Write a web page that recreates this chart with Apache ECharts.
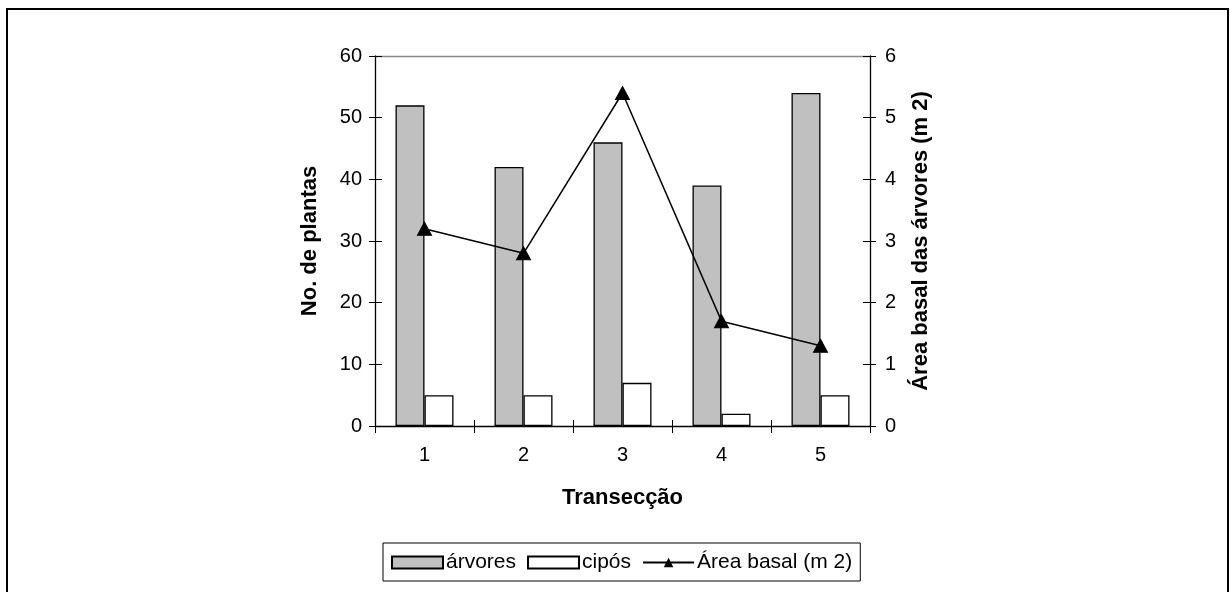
<!DOCTYPE html>
<html>
<head>
<meta charset="utf-8">
<script src="https://cdn.jsdelivr.net/npm/echarts@6/dist/echarts.min.js"></script>
<style>
  html, body { margin: 0; padding: 0; background: #fff; }
  #chart { width: 1230px; height: 592px; }
  #frame { position: absolute; left: 6px; top: 8px; width: 1219px; height: 600px; border: 2px solid #000; pointer-events: none; }
</style>
</head>
<body>
<div id="chart"></div>
<div id="frame"></div>
<script>
// Transect categories and per-transect counts
const categories = ['1', '2', '3', '4', '5'];
const arvores = [52, 42, 46, 39, 54];
const cipos = [5, 5, 7, 2, 5];
// Basal area of trees per transect (m 2)
const areaBasal = [3.2, 2.8, 5.4, 1.7, 1.3];

const FONT = 'Liberation Sans, Arial, sans-serif';
const TICK_FONT = 20;
const TITLE_FONT = 22;
const chart = echarts.init(document.getElementById('chart'));

const gridBox = { left: 375, right: 360, top: 56, bottom: 166 };
const hiddenParts = {
  axisLine: { show: false }, axisLabel: { show: false }, splitLine: { show: false }
};
const innerTick = (len) => ({ show: true, inside: true, length: len, lineStyle: { color: '#000' } });

chart.setOption({
  animation: false,
  backgroundColor: '#fff',
  textStyle: { fontFamily: FONT, color: '#000' },
  // grid 0 carries the data; grid 1 overlays it to draw the inner half of the crossing ticks
  grid: [gridBox, gridBox],
  legend: {
    left: 383, top: 543,
    padding: [9, 8, 8, 8],
    borderColor: '#000', borderWidth: 1,
    itemWidth: 51, itemHeight: 12, itemGap: 11,
    textStyle: { fontFamily: FONT, fontSize: 21, color: '#000', padding: [0, 0, 0, -2] },
    data: [
      { name: 'árvores', icon: 'rect' },
      { name: 'cipós', icon: 'rect' },
      { name: 'Área basal (m 2)' }
    ]
  },
  xAxis: [
    {
      type: 'category', data: categories, gridIndex: 0, position: 'bottom',
      name: 'Transecção', nameLocation: 'middle', nameGap: 61,
      nameTextStyle: { fontFamily: FONT, fontSize: TITLE_FONT, fontWeight: 'bold', color: '#000' },
      axisLine: { onZero: false, lineStyle: { color: '#000', width: 1.3 } },
      axisTick: { show: true, length: 7, lineStyle: { color: '#000' } },
      axisLabel: { fontFamily: FONT, fontSize: TICK_FONT, color: '#000', margin: 19 },
      splitLine: { show: false }
    },
    {
      // upper edge of the plot area
      type: 'category', data: categories, gridIndex: 0, position: 'top',
      axisLine: { show: true, onZero: false, lineStyle: { color: '#888', width: 1.3 } },
      axisTick: { show: false }, axisLabel: { show: false }, splitLine: { show: false }
    },
    {
      type: 'category', data: categories, gridIndex: 1, position: 'bottom',
      axisTick: innerTick(6), ...hiddenParts
    }
  ],
  yAxis: [
    {
      type: 'value', min: 0, max: 60, interval: 10, gridIndex: 0, position: 'left',
      name: 'No. de plantas', nameLocation: 'middle', nameGap: 54,
      nameTextStyle: { fontFamily: FONT, fontSize: TITLE_FONT, fontWeight: 'bold', color: '#000' },
      axisLine: { show: true, onZero: false, lineStyle: { color: '#000', width: 1.3 } },
      axisTick: { show: true, length: 6, lineStyle: { color: '#000' } },
      axisLabel: { fontFamily: FONT, fontSize: TICK_FONT, color: '#000', margin: 13 },
      splitLine: { show: false }
    },
    {
      type: 'value', min: 0, max: 6, interval: 1, gridIndex: 0, position: 'right',
      name: 'Área basal das árvores (m 2)', nameLocation: 'middle', nameGap: 40,
      nameRotate: 90,
      nameTextStyle: { fontFamily: FONT, fontSize: TITLE_FONT, fontWeight: 'bold', color: '#000' },
      axisLine: { show: true, onZero: false, lineStyle: { color: '#000', width: 1.3 } },
      axisTick: { show: true, length: 6, lineStyle: { color: '#000' } },
      axisLabel: { fontFamily: FONT, fontSize: TICK_FONT, color: '#000', margin: 15 },
      splitLine: { show: false }
    },
    {
      type: 'value', min: 0, max: 60, interval: 10, gridIndex: 1, position: 'left',
      axisTick: innerTick(7), ...hiddenParts
    },
    {
      type: 'value', min: 0, max: 6, interval: 1, gridIndex: 1, position: 'right',
      axisTick: innerTick(7), ...hiddenParts
    }
  ],
  series: [
    {
      name: 'árvores', type: 'bar', data: arvores, xAxisIndex: 0, yAxisIndex: 0,
      barWidth: 29, barGap: '0%',
      itemStyle: { color: '#c0c0c0', borderColor: '#000', borderWidth: 1.3 }
    },
    {
      name: 'cipós', type: 'bar', data: cipos, xAxisIndex: 0, yAxisIndex: 0,
      barWidth: 29, barGap: '0%',
      itemStyle: { color: '#fff', borderColor: '#000', borderWidth: 1.3 }
    },
    {
      name: 'Área basal (m 2)', type: 'line', data: areaBasal, xAxisIndex: 0, yAxisIndex: 1,
      symbol: 'triangle', symbolSize: [14, 13], z: 5,
      lineStyle: { color: '#000', width: 1.5 },
      itemStyle: { color: '#000', borderColor: '#000' }
    }
  ]
});
</script>
</body>
</html>
